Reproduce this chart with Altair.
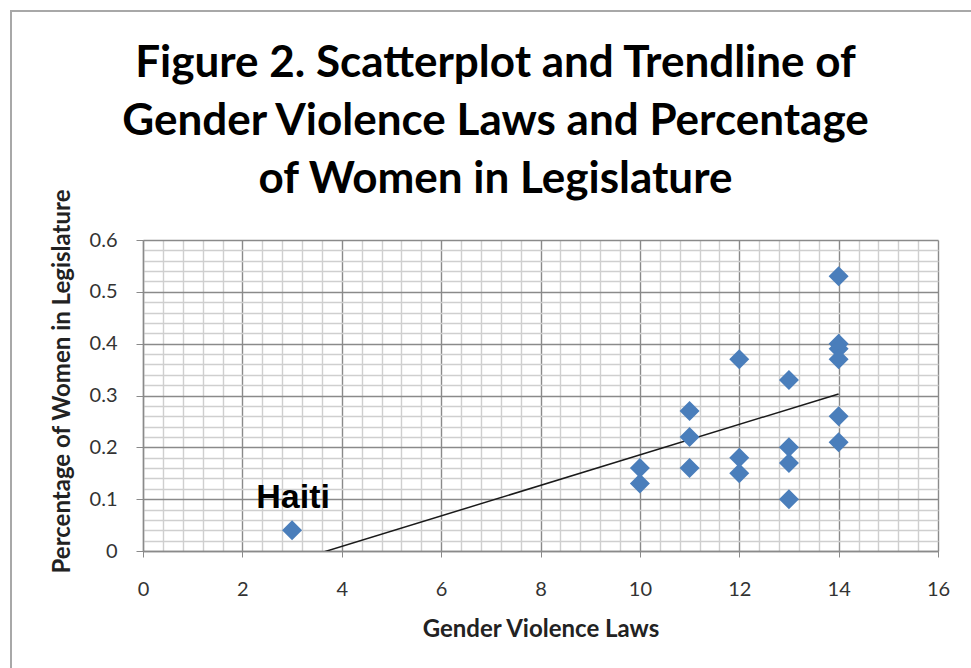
import altair as alt
import pandas as pd

# Data
laws = [3, 10, 10, 11, 11, 11, 12, 12, 12, 13, 13, 13, 13, 14, 14, 14, 14, 14, 14]
women = [0.04, 0.16, 0.13, 0.27, 0.22, 0.16, 0.37, 0.18, 0.15, 0.33, 0.20, 0.17, 0.10,
         0.53, 0.40, 0.39, 0.37, 0.26, 0.21]

label_names = ["Haiti"]
label_x = [3]
label_y = [0.04]

x_ticks = [0, 2, 4, 6, 8, 10, 12, 14, 16]
y_ticks = [0, 0.1, 0.2, 0.3, 0.4, 0.5, 0.6]
x_minor = [round(i * 0.4, 2) for i in range(41)]
y_minor = [round(i * 0.02, 2) for i in range(31)]

df = pd.DataFrame({"laws": laws, "women": women})
lab = pd.DataFrame({"name": label_names, "laws": label_x, "women": label_y})

FONT = "Lato"
MAJOR = "#8a8a8a"
MINOR = "#cfcfcf"

x_major_test = "abs(datum.value/2 - round(datum.value/2)) < 0.001"
y_major_test = "abs(datum.value*10 - round(datum.value*10)) < 0.001"

x_scale = alt.Scale(domain=[0, 16], nice=False, zero=False)
y_scale = alt.Scale(domain=[0, 0.6], nice=False)

x_axis = alt.Axis(
    values=x_minor, orient="bottom",
    title="Gender Violence Laws",
    titleFont=FONT, titleFontSize=24, titleFontWeight="bold", titleColor="#222",
    titlePadding=18,
    labelFont=FONT, labelFontSize=20, labelColor="#333", labelPadding=22,
    labelExpr=x_major_test + " ? format(datum.value, 'd') : ''",
    labelFlush=False, labelOverlap=False,
    tickSize=6,
    tickColor=alt.ConditionalAxisColor(condition={"test": x_major_test, "value": MAJOR}, value="transparent"),
    gridColor=alt.ConditionalAxisColor(condition={"test": x_major_test, "value": MAJOR}, value=MINOR),
    gridWidth=1.4,
    domainColor=MAJOR, domainWidth=1.4,
)

y_axis = alt.Axis(
    values=y_minor, orient="left",
    title="Percentage of Women in Legislature",
    titleFont=FONT, titleFontSize=24, titleFontWeight="bold", titleColor="#222",
    titleX=-81, titleY=141, titleAngle=270, titleBaseline="middle", titleAlign="center",
    labelFont=FONT, labelFontSize=20, labelColor="#333", labelPadding=19,
    labelExpr=y_major_test + " ? format(datum.value, '.1~f') : ''",
    labelFlush=False, labelOverlap=False,
    tickSize=7,
    tickColor=alt.ConditionalAxisColor(condition={"test": y_major_test, "value": MAJOR}, value="transparent"),
    gridColor=alt.ConditionalAxisColor(condition={"test": y_major_test, "value": MAJOR}, value=MINOR),
    gridWidth=1.4,
    domainColor=MAJOR, domainWidth=1.4,
)

X = alt.X("laws:Q", scale=x_scale, axis=x_axis)
Y = alt.Y("women:Q", scale=y_scale, axis=y_axis)

base = alt.Chart(df)

points = base.mark_point(shape="diamond", filled=True, size=400, color="#4a7ebb", opacity=1).encode(
    x=X, y=Y,
)

trend = base.transform_regression("laws", "women").mark_line(
    color="#1a1a1a", strokeWidth=1.5, clip=True
).encode(x=X, y=Y)

labels = alt.Chart(lab).mark_text(
    font="Liberation Sans", fontSize=34, fontWeight="bold", color="#000", dy=-32, dx=1
).encode(x=X, y=Y, text="name:N")

border = alt.Chart(lab).mark_rect(fill=None, stroke="#a8a8a8", strokeWidth=2, clip=False).encode(
    x=alt.value(-132), x2=alt.value(840), y=alt.value(-229), y2=alt.value(440)
)

chart = alt.layer(border, trend, points, labels).properties(
    width=795,
    height=311,
    padding={"left": 143, "top": 240, "right": 33, "bottom": 117},
    autosize=alt.AutoSizeParams(type="none"),
    title=alt.Title(
        ["Figure 2. Scatterplot and Trendline of",
         "Gender Violence Laws and Percentage",
         "of Women in Legislature"],
        font=FONT, fontSize=44, fontWeight="bold", color="#000",
        lineHeight=58, anchor="middle", dx=-45, offset=0, dy=236, baseline="bottom",
    ),
).configure_view(stroke=None)

chart.save("out.html", embed_options={"renderer": "svg", "actions": False})
